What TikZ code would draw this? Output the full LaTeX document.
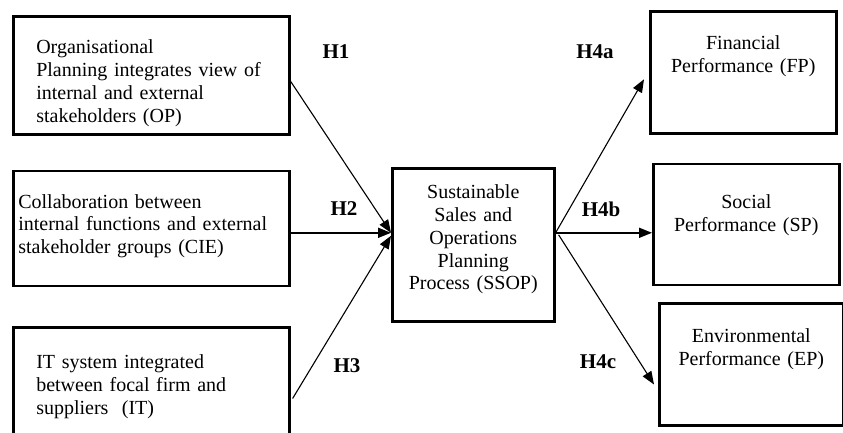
\documentclass[tikz,border=0pt]{standalone}
\usepackage{fontspec}
\setmainfont{Liberation Serif}
\usetikzlibrary{positioning, calc, arrows.meta}
\tikzstyle{leftbox} = [rectangle, 
minimum width=276pt, 
minimum height=118pt, 
inner xsep=23pt,
text width=230pt, 
align=left, 
draw=black, line width=2.6pt,
font=\fontsize{20}{22.8}\selectfont]
\tikzstyle{rightbox} = [rectangle, 
minimum width=186pt, 
minimum height=121pt, 
text width=176pt, 
align=center, 
draw=black, line width=2.6pt,
font=\fontsize{20}{22.8}\selectfont]
\tikzstyle{hyp} = [font=\fontsize{21}{24}\selectfont\bfseries]
\tikzstyle{arrow} = [line width=1.1pt, -{Triangle[length=13pt, width=10pt]}]
\tikzstyle{bigarrow} = [arrow, line width=1.8pt]

\begin{document}
\begin{tikzpicture}[x=1pt, y=-1pt]
			\clip (0,0) rectangle (843,433);
			% antecedents
			\node (op)[leftbox, anchor=north west] at (12,15) {\rule{0pt}{30pt}Organisational\\Planning integrates view of\\internal and external\\stakeholders (OP)};
			\node (cie)[leftbox, below=34pt of op, minimum height=115pt, inner xsep=5pt, text width=266pt] {Collaboration between\\internal functions and external\\stakeholder groups (CIE)\\[-14pt]\mbox{}};
			\node (it)[leftbox, below=39pt of cie] {IT system integrated\\between focal firm and\\suppliers~ (IT)};
			
			% mediator
			\node (ssop)[rightbox, anchor=north west, minimum width=162pt, minimum height=153pt, text width=152pt] at (391,167) {Sustainable\\Sales and\\Operations\\Planning\\Process (SSOP)\\[-8pt]\mbox{}};
			\coordinate (ssopIn) at ($(ssop.west)+(0,-12)$);
			\coordinate (ssopOut) at ($(ssop.east)+(0,-12)$);
			
			% outcomes
			\node (fp)[rightbox, anchor=north west, minimum height=122pt] at (649,10) {Financial\\Performance (FP)\\[14pt]\mbox{}};
			\node (sp)[rightbox, below=28pt of fp, xshift=3pt] {Social\\Performance (SP)\\\mbox{}};
			\node (ep)[rightbox, below=16pt of sp, xshift=5pt, minimum width=184pt, minimum height=122pt] {Environmental\\Performance (EP)\\[12pt]\mbox{}};
			
			\draw [arrow] ($(op.east)+(0,6)$) -- (ssopIn);
			\draw [bigarrow] (cie.east |- ssopIn) -- (ssopIn);
			\draw [arrow] ($(it.east)+(2,12)$) -- ($(ssopIn)+(0,3)$);
			\draw [arrow] (ssopOut) -- ($(fp.west)+(-5,7)$);
			\draw [bigarrow] (ssopOut) -- (sp.west |- ssopOut);
			\draw [arrow] ($(ssopOut)+(3,2)$) -- ($(ep.west)+(-4,20)$);
			
			\node (h1)[hyp] at (336,52) {H1};
			\node (h2)[hyp] at (344,209) {H2};
			\node (h3)[hyp] at (347,366) {H3};
			\node (h4a)[hyp] at (595,52) {H4a};
			\node (h4b)[hyp] at (601,209) {H4b};
			\node (h4c)[hyp] at (598,362) {H4c};
		\end{tikzpicture}
\end{document}
